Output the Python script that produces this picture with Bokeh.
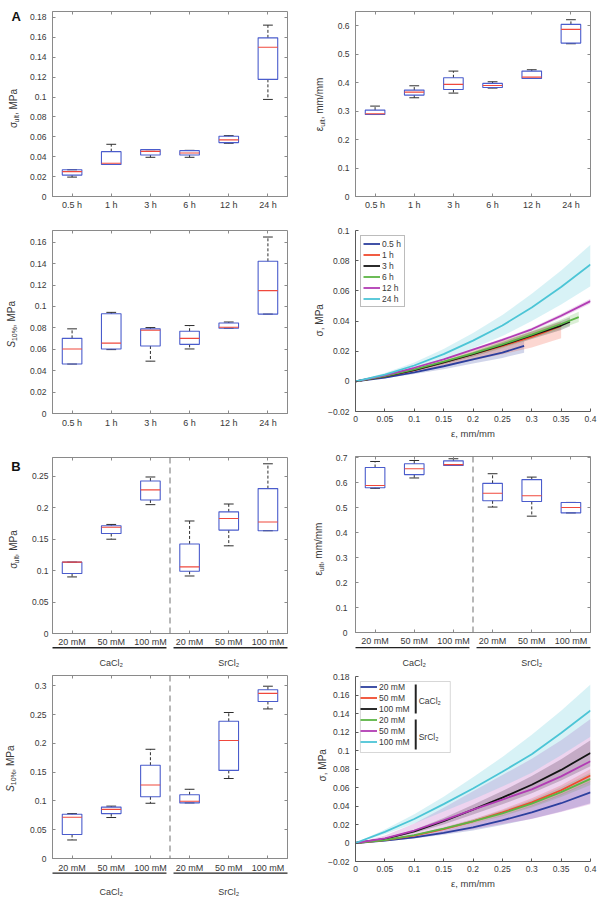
import numpy as np
from bokeh.plotting import figure
from bokeh.layouts import row, column
from bokeh.models import (Range1d, FixedTicker, LinearAxis, Span, Label, Legend,
                          LegendItem, BoxAnnotation, ColumnDataSource)
from bokeh.core.properties import value
from bokeh.embed import file_html
from bokeh.resources import INLINE

# ---------------------------------------------------------------- data
hours = ["0.5 h", "1 h", "3 h", "6 h", "12 h", "24 h"]
concs = ["20 mM", "50 mM", "100 mM", "20 mM", "50 mM", "100 mM"]
salts = ["CaCl₂", "SrCl₂"]

# A: ultimate stress vs crosslinking time (MPa)
sig_t_lo = [0.0195, 0.0322, 0.0394, 0.0394, 0.0535, 0.0976]
sig_t_q1 = [0.0215, 0.0322, 0.0417, 0.0417, 0.0542, 0.1178]
sig_t_med = [0.0250, 0.0335, 0.0454, 0.0437, 0.0569, 0.1500]
sig_t_q3 = [0.0269, 0.0451, 0.0471, 0.0461, 0.0606, 0.1595]
sig_t_hi = [0.0269, 0.0525, 0.0471, 0.0464, 0.0612, 0.1723]

# A: ultimate strain vs crosslinking time (mm/mm)
eps_t_lo = [0.2880, 0.3469, 0.3633, 0.3809, 0.4148, 0.5367]
eps_t_q1 = [0.2883, 0.3563, 0.3762, 0.3832, 0.4148, 0.5390]
eps_t_med = [0.2906, 0.3668, 0.3938, 0.3902, 0.4195, 0.5871]
eps_t_q3 = [0.3035, 0.3738, 0.4172, 0.3973, 0.4406, 0.6047]
eps_t_hi = [0.3176, 0.3890, 0.4406, 0.4031, 0.4453, 0.6211]

# A: secant modulus at 10% vs crosslinking time (MPa)
s10_t_lo = [0.0462, 0.0597, 0.0489, 0.0603, 0.0797, 0.0929]
s10_t_q1 = [0.0462, 0.0603, 0.0631, 0.0646, 0.0797, 0.0929]
s10_t_med = [0.0603, 0.0658, 0.0778, 0.0702, 0.0806, 0.1148]
s10_t_q3 = [0.0702, 0.0932, 0.0791, 0.0769, 0.0846, 0.1422]
s10_t_hi = [0.0791, 0.0945, 0.0803, 0.0822, 0.0855, 0.1649]

# B: ultimate stress vs salt / concentration (MPa)
sig_s_lo = [0.0900, 0.1500, 0.2050, 0.0915, 0.1395, 0.1635]
sig_s_q1 = [0.0955, 0.1590, 0.2125, 0.0990, 0.1645, 0.1635]
sig_s_med = [0.1135, 0.1690, 0.2285, 0.1060, 0.1830, 0.1775]
sig_s_q3 = [0.1135, 0.1715, 0.2425, 0.1425, 0.1935, 0.2305]
sig_s_hi = [0.1135, 0.1735, 0.2490, 0.1790, 0.2060, 0.2700]

# B: ultimate strain vs salt / concentration (mm/mm)
eps_s_lo = [0.5775, 0.6190, 0.6690, 0.5025, 0.4660, 0.4790]
eps_s_q1 = [0.5800, 0.6325, 0.6690, 0.5275, 0.5250, 0.4790]
eps_s_med = [0.5890, 0.6560, 0.6725, 0.5575, 0.5475, 0.5010]
eps_s_q3 = [0.6610, 0.6760, 0.6875, 0.5975, 0.6125, 0.5210]
eps_s_hi = [0.6850, 0.6890, 0.6960, 0.6360, 0.6225, 0.5210]

# B: secant modulus at 10% vs salt / concentration (MPa)
s10_s_lo = [0.0322, 0.0712, 0.0960, 0.0966, 0.1390, 0.2599]
s10_s_q1 = [0.0418, 0.0780, 0.1073, 0.0966, 0.1531, 0.2729]
s10_s_med = [0.0718, 0.0853, 0.1277, 0.0994, 0.2051, 0.2870]
s10_s_q3 = [0.0768, 0.0893, 0.1621, 0.1107, 0.2384, 0.2932]
s10_s_hi = [0.0780, 0.0910, 0.1898, 0.1203, 0.2537, 0.2994]

# A: mean stress-strain curves with spread
t05_strain = [0, 0.05, 0.1, 0.15, 0.2, 0.25, 0.287]
t05_mean = [0, 0.0025, 0.0060, 0.0100, 0.0145, 0.0190, 0.0235]
t05_low = [0, 0.0020, 0.0048, 0.0080, 0.0118, 0.0155, 0.0190]
t05_high = [0, 0.0030, 0.0070, 0.0118, 0.0170, 0.0220, 0.0265]

t1_strain = [0, 0.05, 0.1, 0.15, 0.2, 0.25, 0.3, 0.35]
t1_mean = [0, 0.0033, 0.0075, 0.0125, 0.0180, 0.0235, 0.0295, 0.0367]
t1_low = [0, 0.0027, 0.0060, 0.0098, 0.0140, 0.0180, 0.0225, 0.0286]
t1_high = [0, 0.0037, 0.0085, 0.0140, 0.0205, 0.0270, 0.0330, 0.0395]

t3_strain = [0, 0.05, 0.1, 0.15, 0.2, 0.25, 0.3, 0.35, 0.365]
t3_mean = [0, 0.0033, 0.0075, 0.0125, 0.0180, 0.0240, 0.0305, 0.0370, 0.0395]
t3_low = [0, 0.0030, 0.0068, 0.0115, 0.0165, 0.0220, 0.0280, 0.0340, 0.0365]
t3_high = [0, 0.0036, 0.0082, 0.0135, 0.0195, 0.0260, 0.0330, 0.0400, 0.0425]

t6_strain = [0, 0.05, 0.1, 0.15, 0.2, 0.25, 0.3, 0.35, 0.38]
t6_mean = [0, 0.0035, 0.0080, 0.0130, 0.0185, 0.0245, 0.0310, 0.0380, 0.0426]
t6_low = [0, 0.0032, 0.0073, 0.0120, 0.0170, 0.0225, 0.0285, 0.0350, 0.0393]
t6_high = [0, 0.0038, 0.0087, 0.0140, 0.0200, 0.0265, 0.0335, 0.0410, 0.0462]

t12_strain = [0, 0.05, 0.1, 0.15, 0.2, 0.25, 0.3, 0.35, 0.4]
t12_mean = [0, 0.0040, 0.0090, 0.0145, 0.0210, 0.0275, 0.0345, 0.0435, 0.0532]
t12_low = [0, 0.0039, 0.0087, 0.0140, 0.0203, 0.0266, 0.0334, 0.0422, 0.0516]
t12_high = [0, 0.0041, 0.0093, 0.0150, 0.0217, 0.0284, 0.0356, 0.0448, 0.0548]

t24_strain = [0, 0.05, 0.1, 0.15, 0.2, 0.25, 0.3, 0.35, 0.4]
t24_mean = [0, 0.0045, 0.0105, 0.0180, 0.0270, 0.0370, 0.0490, 0.0625, 0.0774]
t24_low = [0, 0.0035, 0.0085, 0.0145, 0.0220, 0.0300, 0.0400, 0.0510, 0.0630]
t24_high = [0, 0.0055, 0.0125, 0.0215, 0.0320, 0.0440, 0.0580, 0.0735, 0.0905]

# B: mean stress-strain curves with spread
salt_strain = [0, 0.05, 0.1, 0.15, 0.2, 0.25, 0.3, 0.35, 0.4]
ca20_mean = [0, 0.0025, 0.0060, 0.0110, 0.0170, 0.0245, 0.0330, 0.0430, 0.0548]
ca20_low = [0, 0.0020, 0.0048, 0.0088, 0.0136, 0.0195, 0.0262, 0.0340, 0.0430]
ca20_high = [0, 0.0030, 0.0074, 0.0135, 0.0210, 0.0300, 0.0405, 0.0530, 0.0670]
ca50_mean = [0, 0.0030, 0.0080, 0.0150, 0.0235, 0.0330, 0.0440, 0.0570, 0.0729]
ca50_low = [0, 0.0027, 0.0072, 0.0135, 0.0212, 0.0298, 0.0397, 0.0515, 0.0660]
ca50_high = [0, 0.0033, 0.0088, 0.0165, 0.0258, 0.0362, 0.0483, 0.0625, 0.0800]
ca100_mean = [0, 0.0045, 0.0125, 0.0235, 0.0360, 0.0490, 0.0630, 0.0790, 0.0974]
ca100_low = [0, 0.0038, 0.0107, 0.0200, 0.0307, 0.0418, 0.0537, 0.0675, 0.0830]
ca100_high = [0, 0.0052, 0.0143, 0.0270, 0.0413, 0.0562, 0.0723, 0.0905, 0.1110]
sr20_mean = [0, 0.0030, 0.0085, 0.0155, 0.0235, 0.0320, 0.0425, 0.0550, 0.0693]
sr20_low = [0, 0.0027, 0.0077, 0.0140, 0.0212, 0.0289, 0.0384, 0.0497, 0.0626]
sr20_high = [0, 0.0033, 0.0093, 0.0170, 0.0258, 0.0351, 0.0466, 0.0603, 0.0760]
sr50_mean = [0, 0.0050, 0.0135, 0.0245, 0.0360, 0.0470, 0.0580, 0.0720, 0.0884]
sr50_low = [0, 0.0020, 0.0055, 0.0100, 0.0150, 0.0205, 0.0260, 0.0335, 0.0420]
sr50_high = [0, 0.0080, 0.0210, 0.0380, 0.0560, 0.0735, 0.0910, 0.1110, 0.1340]
sr100_mean = [0, 0.0120, 0.0260, 0.0420, 0.0590, 0.0770, 0.0960, 0.1190, 0.1432]
sr100_low = [0, 0.0095, 0.0210, 0.0340, 0.0470, 0.0610, 0.0760, 0.0950, 0.1150]
sr100_high = [0, 0.0145, 0.0310, 0.0500, 0.0710, 0.0930, 0.1170, 0.1430, 0.1713]

# tick positions
strain_ticks = [0, 0.05, 0.1, 0.15, 0.2, 0.25, 0.3, 0.35, 0.4]
sig_t_ticks = [0, 0.02, 0.04, 0.06, 0.08, 0.1, 0.12, 0.14, 0.16, 0.18]
eps_t_ticks = [0, 0.1, 0.2, 0.3, 0.4, 0.5, 0.6]
s10_t_ticks = [0, 0.02, 0.04, 0.06, 0.08, 0.1, 0.12, 0.14, 0.16]
curve_t_ticks = [-0.02, 0, 0.02, 0.04, 0.06, 0.08, 0.1]
sig_s_ticks = [0, 0.05, 0.1, 0.15, 0.2, 0.25]
eps_s_ticks = [0, 0.1, 0.2, 0.3, 0.4, 0.5, 0.6, 0.7]
s10_s_ticks = [0, 0.05, 0.1, 0.15, 0.2, 0.25, 0.3]
curve_s_ticks = [-0.02, 0, 0.02, 0.04, 0.06, 0.08, 0.1, 0.12, 0.14, 0.16, 0.18]

# ---------------------------------------------------------------- style
FONT = "Liberation Sans"
FRAME = "#8a8a8a"
AXIS = "#5a5a5a"
TXT = "#383838"
BOXC = "#4a5ccc"
MEDC = "#f0483c"
WHC = "#2e2e2e"
CURVE_COLORS = ["#2c3f9e", "#f04a2e", "#141414", "#5cb545", "#b23cb4", "#4cc5d6"]

EM = {"σ": 0.57, "ε": 0.46, "S": 0.667, "u": 0.556, "l": 0.222, "t": 0.278,
      ",": 0.278, " ": 0.278, "M": 0.833, "P": 0.667, "a": 0.556, "m": 0.833,
      "/": 0.278, "1": 0.556, "0": 0.556, "%": 0.889}


def tw(s, size):
    return size * sum(EM.get(c, 0.556) for c in s)


def fmt(v):
    return f"{v:g}".replace("-", "\u2212")


def base_fig(w, h, bl, br, bt, bb, xr, yr):
    p = figure(width=w, height=h, x_range=xr, y_range=yr, output_backend="svg",
               toolbar_location=None, min_border_left=bl, min_border_right=br,
               min_border_top=bt, min_border_bottom=bb)
    p.grid.visible = False
    p.background_fill_color = "white"
    p.border_fill_color = "white"
    p.tags = [w - bl - br, h - bt - bb]   # frame size in pixels
    return p


def at(p, dx, dy):
    """Data position of a point given in pixels from the frame's bottom-left."""
    fw, fh = p.tags
    xs, xe = p.x_range.start, p.x_range.end
    ys, ye = p.y_range.start, p.y_range.end
    return xs + dx * (xe - xs) / fw, ys + dy * (ye - ys) / fh


def style_axis(ax, ticks, labels, size, standoff, line_color):
    ax.ticker = FixedTicker(ticks=list(ticks), minor_ticks=[])
    ax.major_label_overrides = {t: l for t, l in zip(ticks, labels)}
    ax.major_tick_in = 3
    ax.major_tick_out = 0
    ax.major_tick_line_color = line_color
    ax.minor_tick_line_color = None
    ax.axis_line_color = line_color
    ax.major_label_text_font = FONT
    ax.major_label_text_font_size = size
    ax.major_label_text_color = TXT
    ax.major_label_standoff = standoff


def mirror_axis(p, side, ticks):
    ax = LinearAxis(ticker=FixedTicker(ticks=list(ticks), minor_ticks=[]),
                    major_label_overrides={t: "" for t in ticks},
                    major_label_text_font_size="0px", major_label_standoff=0,
                    major_tick_in=3, major_tick_out=0, major_tick_line_color=FRAME,
                    minor_tick_line_color=None, axis_line_color=None)
    p.add_layout(ax, side)


def outside_text(p, x, y, text, size, style="normal", angle=0.0, align="left",
                 color=TXT):
    # text in the border area, drawn as an unclipped overlay glyph
    p.text(x=[x], y=[y], text=[text], angle=angle, text_font=value(FONT),
           text_font_size=value(f"{size}px"), text_font_style=style, text_color=color,
           text_align=align, text_baseline="middle", level="overlay")


def ylabel(p, parts, dx, yc):
    total = sum(tw(t, sz) for t, sz, sh, st in parts)
    y = yc - total / 2
    for t, sz, sh, st in parts:
        xd, yd = at(p, dx + sh, y)
        outside_text(p, xd, yd, t, sz, style=st, angle=np.pi / 2)
        y += tw(t, sz)


def panel_letter(p, letter, dx, dy):
    xd, yd = at(p, dx, dy)
    outside_text(p, xd, yd, letter, 13, style="bold", align="center", color="#111111")


def draw_boxes(p, lo, q1, med, q3, hi):
    x = np.arange(1, len(med) + 1, dtype=float)
    src = ColumnDataSource(dict(x=x, lo=lo, q1=q1, med=med, q3=q3, hi=hi,
                                c0=x - 0.125, c1=x + 0.125, m0=x - 0.25, m1=x + 0.25))
    p.segment(x0="x", y0="q3", x1="x", y1="hi", source=src, line_color=WHC,
              line_width=1, line_dash="3 2")
    p.segment(x0="x", y0="q1", x1="x", y1="lo", source=src, line_color=WHC,
              line_width=1, line_dash="3 2")
    p.segment(x0="c0", y0="hi", x1="c1", y1="hi", source=src, line_color=WHC, line_width=1)
    p.segment(x0="c0", y0="lo", x1="c1", y1="lo", source=src, line_color=WHC, line_width=1)
    p.vbar(x="x", width=0.5, bottom="q1", top="q3", source=src, fill_color=None,
           line_color=BOXC, line_width=1.1)
    p.segment(x0="m0", y0="med", x1="m1", y1="med", source=src, line_color=MEDC,
              line_width=1.1)
    return x


def box_panel(h, bl, br, bt, bb, ymax, yticks, cats, stats, ystand, xstand):
    n = len(cats)
    p = base_fig(300, h, bl, br, bt, bb, Range1d(0.5, n + 0.5), Range1d(0, ymax))
    p.outline_line_color = FRAME
    x = draw_boxes(p, *stats)
    style_axis(p.xaxis[0], x, cats, "9px", xstand, FRAME)
    style_axis(p.yaxis[0], yticks, [fmt(t) for t in yticks], "8.5px", ystand, FRAME)
    mirror_axis(p, "above", x)
    mirror_axis(p, "right", yticks)
    return p, x


def salt_groups(p, x, under_px, group_stand):
    # separator between the two salts
    p.add_layout(Span(location=(x[2] + x[3]) / 2, dimension="height", line_color="#707070",
                      line_width=1, line_dash="6 4"))
    # underline below each group's concentration labels
    gap = 0.09
    y_line = at(p, 0, -under_px)[1]
    x0 = [x[0] - 0.5, x[3] - 0.5 + gap]
    x1 = [x[2] + 0.5 - gap, x[5] + 0.5]
    p.segment(x0=x0, y0=[y_line, y_line], x1=x1, y1=[y_line, y_line],
              line_color="#222222", line_width=1.4, level="overlay")
    # salt names under the underlines
    centers = [float(np.mean(x[:3])), float(np.mean(x[3:]))]
    gax = LinearAxis(ticker=FixedTicker(ticks=centers, minor_ticks=[]),
                     major_label_overrides={c: s for c, s in zip(centers, salts)},
                     major_tick_line_color=None, minor_tick_line_color=None,
                     axis_line_color=None, major_label_standoff=group_stand,
                     major_label_text_font=FONT, major_label_text_font_size="9px",
                     major_label_text_color=TXT)
    p.add_layout(gax, "below")


def curve_panel(h, bl, br, bt, bb, ymin, ymax, yticks, curves, names):
    p = base_fig(300, h, bl, br, bt, bb, Range1d(0, 0.4), Range1d(ymin, ymax))
    p.outline_line_color = None
    for (sx, m, lo, hi), c in zip(curves, CURVE_COLORS):
        p.varea(x=sx, y1=lo, y2=hi, fill_color=c, fill_alpha=0.22)
    lines = []
    for (sx, m, lo, hi), c in zip(curves, CURVE_COLORS):
        lines.append(p.line(sx, m, line_color=c, line_width=1.8))
    style_axis(p.xaxis[0], strain_ticks, [fmt(t) for t in strain_ticks], "8.5px", 4, AXIS)
    style_axis(p.yaxis[0], yticks, [fmt(t) for t in yticks], "8.5px", 6, AXIS)
    p.xaxis[0].axis_label = "ε, mm/mm"
    p.xaxis[0].axis_label_text_font = FONT
    p.xaxis[0].axis_label_text_font_size = "9.5px"
    p.xaxis[0].axis_label_text_font_style = "normal"
    p.xaxis[0].axis_label_text_color = TXT
    p.xaxis[0].axis_label_standoff = 3
    items = [LegendItem(label=nm, renderers=[r]) for nm, r in zip(names, lines)]
    return p, items


def legend(items, framed=True):
    return Legend(items=items, location="top_left", margin=5, padding=2, spacing=0,
                  glyph_width=17, glyph_height=11, label_height=11, label_standoff=2,
                  label_text_font=FONT, label_text_font_size="8.5px",
                  label_text_color=TXT,
                  border_line_color="#7a7a7a" if framed else None, border_line_width=1,
                  background_fill_color="white",
                  background_fill_alpha=1 if framed else 0)


SIG = [("σ", 10, 0, "normal"), ("ult", 7, 3, "normal"), (", MPa", 10, 0, "normal")]
EPS = [("ε", 10, 0, "normal"), ("ult", 7, 3, "normal"), (", mm/mm", 10, 0, "normal")]
S10 = [("S", 10, 0, "italic"), ("10%", 7, 3, "normal"), (", MPa", 10, 0, "normal")]
SIGC = [("σ, MPa", 10, 0, "normal")]

# ---------------------------------------------------------------- panel A
pA1, _ = box_panel(215, 52, 8, 11, 19, 0.186, sig_t_ticks, hours,
                   (sig_t_lo, sig_t_q1, sig_t_med, sig_t_q3, sig_t_hi), 6, 3)
ylabel(pA1, SIG, -40, 88)
panel_letter(pA1, "A", -37, 180)

pA2, _ = box_panel(215, 52, 8, 11, 19, 0.65, eps_t_ticks, hours,
                   (eps_t_lo, eps_t_q1, eps_t_med, eps_t_q3, eps_t_hi), 6, 3)
ylabel(pA2, EPS, -37, 92)

pA3, _ = box_panel(215, 52, 8, 15, 15, 0.171, s10_t_ticks, hours,
                   (s10_t_lo, s10_t_q1, s10_t_med, s10_t_q3, s10_t_hi), 6, 4)
ylabel(pA3, S10, -42, 90)

time_curves = [(t05_strain, t05_mean, t05_low, t05_high),
               (t1_strain, t1_mean, t1_low, t1_high),
               (t3_strain, t3_mean, t3_low, t3_high),
               (t6_strain, t6_mean, t6_low, t6_high),
               (t12_strain, t12_mean, t12_low, t12_high),
               (t24_strain, t24_mean, t24_low, t24_high)]
pA4, itemsA = curve_panel(227, 55, 10, 15, 31, -0.02, 0.1, curve_t_ticks,
                          time_curves, hours)
pA4.add_layout(legend(itemsA))
ylabel(pA4, SIGC, -36, 91)

# ---------------------------------------------------------------- panel B
pB1, xB1 = box_panel(240, 49, 13, 27, 27, 0.28, sig_s_ticks, concs,
                     (sig_s_lo, sig_s_q1, sig_s_med, sig_s_q3, sig_s_hi), 4, 3)
salt_groups(pB1, xB1, 15, 2)
ylabel(pB1, SIG, -39, 88)
panel_letter(pB1, "B", -37, 177)

pB2, xB2 = box_panel(228, 55, 7, 14, 28, 0.705, eps_s_ticks, concs,
                     (eps_s_lo, eps_s_q1, eps_s_med, eps_s_q3, eps_s_hi), 8, 3)
salt_groups(pB2, xB2, 16, 3)
ylabel(pB2, EPS, -37, 87)

pB3, xB3 = box_panel(229, 50, 13, 5, 36, 0.318, s10_s_ticks, concs,
                     (s10_s_lo, s10_s_q1, s10_s_med, s10_s_q3, s10_s_hi), 6, 4)
salt_groups(pB3, xB3, 15, 5)
ylabel(pB3, S10, -42, 92)

salt_curves = [(salt_strain, ca20_mean, ca20_low, ca20_high),
               (salt_strain, ca50_mean, ca50_low, ca50_high),
               (salt_strain, ca100_mean, ca100_low, ca100_high),
               (salt_strain, sr20_mean, sr20_low, sr20_high),
               (salt_strain, sr50_mean, sr50_low, sr50_high),
               (salt_strain, sr100_mean, sr100_low, sr100_high)]
pB4, itemsB = curve_panel(229, 54, 8, 6, 38, -0.02, 0.18, curve_s_ticks,
                          salt_curves, concs)
# legend frame wide enough to hold the salt brackets
fh_B4 = pB4.tags[1]
lx0, ly0 = at(pB4, 5, fh_B4 - 76)
lx1, ly1 = at(pB4, 96, fh_B4 - 5)
pB4.add_layout(BoxAnnotation(left=lx0, right=lx1, bottom=ly0, top=ly1,
                             fill_color="white", fill_alpha=1,
                             line_color="#7a7a7a", line_width=1))
pB4.add_layout(legend(itemsB, framed=False))
# brackets grouping the legend entries by salt
for top_px, bot_px in [(8, 37), (43, 73)]:
    bx0, by0 = at(pB4, 60, fh_B4 - bot_px)
    bx1, by1 = at(pB4, 62, fh_B4 - top_px)
    pB4.add_layout(BoxAnnotation(left=bx0, right=bx1, bottom=by0, top=by1,
                                 fill_color="#222222", fill_alpha=1, line_color=None))
for s, top_px in zip(salts, [24, 60]):
    sx, sy = at(pB4, 64, fh_B4 - top_px)
    pB4.add_layout(Label(x=sx, y=sy, text=s, text_font=FONT, text_font_size="8.5px",
                         text_color=TXT, text_align="left", text_baseline="middle"))
ylabel(pB4, SIGC, -33, 96)

layout = row(column(pA1, pA3, pB1, pB3), column(pA2, pA4, pB2, pB4))
open("out.html", "w").write(file_html(layout, INLINE))
